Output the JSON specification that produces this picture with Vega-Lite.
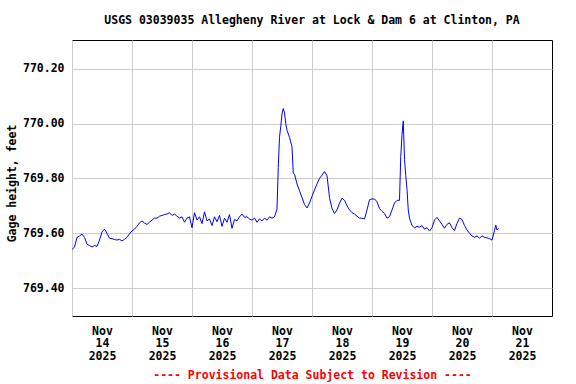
{
"$schema": "https://vega.github.io/schema/vega-lite/v6.json",
"width": 480, "height": 276,
"autosize": "none",
"padding": {"left": 72, "top": 40, "right": 24, "bottom": 68},
"background": "white",
"config": {"view": {"stroke": "black", "strokeWidth": 1}, "font": "DejaVu Sans Mono"},
"title": {"text": "USGS 03039035 Allegheny River at Lock & Dam 6 at Clinton, PA", "font": "DejaVu Sans Mono", "fontSize": 11.5, "fontWeight": "bold", "color": "black", "anchor": "middle", "frame": "group", "offset": 14},
"data": {"values": [
{"t":"2025-11-14T00:00","v":769.54},{"t":"2025-11-14T01:00","v":769.55},{"t":"2025-11-14T02:00","v":769.585},{"t":"2025-11-14T03:00","v":769.59},{"t":"2025-11-14T04:00","v":769.597},{"t":"2025-11-14T05:00","v":769.585},{"t":"2025-11-14T06:00","v":769.56},{"t":"2025-11-14T07:00","v":769.555},{"t":"2025-11-14T08:00","v":769.55},{"t":"2025-11-14T09:00","v":769.555},{"t":"2025-11-14T10:00","v":769.552},{"t":"2025-11-14T11:00","v":769.575},{"t":"2025-11-14T12:00","v":769.605},{"t":"2025-11-14T13:00","v":769.615},{"t":"2025-11-14T14:00","v":769.6},{"t":"2025-11-14T15:00","v":769.582},{"t":"2025-11-14T16:00","v":769.58},{"t":"2025-11-14T17:00","v":769.577},{"t":"2025-11-14T18:00","v":769.575},{"t":"2025-11-14T19:00","v":769.578},{"t":"2025-11-14T20:00","v":769.572},{"t":"2025-11-14T21:00","v":769.578},{"t":"2025-11-14T22:00","v":769.585},{"t":"2025-11-14T23:00","v":769.598},
{"t":"2025-11-15T00:00","v":769.608},{"t":"2025-11-15T01:00","v":769.615},{"t":"2025-11-15T02:00","v":769.625},{"t":"2025-11-15T03:00","v":769.638},{"t":"2025-11-15T04:00","v":769.645},{"t":"2025-11-15T05:00","v":769.637},{"t":"2025-11-15T06:00","v":769.632},{"t":"2025-11-15T07:00","v":769.64},{"t":"2025-11-15T08:00","v":769.648},{"t":"2025-11-15T09:00","v":769.655},{"t":"2025-11-15T10:00","v":769.655},{"t":"2025-11-15T11:00","v":769.662},{"t":"2025-11-15T12:00","v":769.665},{"t":"2025-11-15T13:00","v":769.668},{"t":"2025-11-15T14:00","v":769.67},{"t":"2025-11-15T15:00","v":769.675},{"t":"2025-11-15T16:00","v":769.665},{"t":"2025-11-15T17:00","v":769.67},{"t":"2025-11-15T18:00","v":769.662},{"t":"2025-11-15T19:00","v":769.655},{"t":"2025-11-15T20:00","v":769.66},{"t":"2025-11-15T21:00","v":769.64},{"t":"2025-11-15T22:00","v":769.655},{"t":"2025-11-15T23:00","v":769.66},
{"t":"2025-11-16T00:00","v":769.62},{"t":"2025-11-16T01:00","v":769.675},{"t":"2025-11-16T02:00","v":769.648},{"t":"2025-11-16T03:00","v":769.66},{"t":"2025-11-16T04:00","v":769.635},{"t":"2025-11-16T05:00","v":769.678},{"t":"2025-11-16T06:00","v":769.645},{"t":"2025-11-16T07:00","v":769.652},{"t":"2025-11-16T08:00","v":769.628},{"t":"2025-11-16T09:00","v":769.66},{"t":"2025-11-16T10:00","v":769.642},{"t":"2025-11-16T11:00","v":769.665},{"t":"2025-11-16T12:00","v":769.625},{"t":"2025-11-16T13:00","v":769.655},{"t":"2025-11-16T14:00","v":769.64},{"t":"2025-11-16T15:00","v":769.668},{"t":"2025-11-16T16:00","v":769.618},{"t":"2025-11-16T17:00","v":769.65},{"t":"2025-11-16T18:00","v":769.645},{"t":"2025-11-16T19:00","v":769.66},{"t":"2025-11-16T20:00","v":769.67},{"t":"2025-11-16T21:00","v":769.658},{"t":"2025-11-16T22:00","v":769.66},{"t":"2025-11-16T23:00","v":769.652},
{"t":"2025-11-17T00:00","v":769.648},{"t":"2025-11-17T01:00","v":769.655},{"t":"2025-11-17T02:00","v":769.64},{"t":"2025-11-17T03:00","v":769.652},{"t":"2025-11-17T04:00","v":769.645},{"t":"2025-11-17T05:00","v":769.655},{"t":"2025-11-17T06:00","v":769.648},{"t":"2025-11-17T07:00","v":769.66},{"t":"2025-11-17T08:00","v":769.655},{"t":"2025-11-17T09:00","v":769.66},{"t":"2025-11-17T10:00","v":769.688},{"t":"2025-11-17T10:30","v":769.84},{"t":"2025-11-17T11:00","v":769.95},{"t":"2025-11-17T11:30","v":769.99},{"t":"2025-11-17T12:00","v":770.035},{"t":"2025-11-17T12:30","v":770.055},{"t":"2025-11-17T13:00","v":770.04},{"t":"2025-11-17T13:30","v":770.0},{"t":"2025-11-17T14:00","v":769.975},{"t":"2025-11-17T15:00","v":769.95},{"t":"2025-11-17T16:00","v":769.915},{"t":"2025-11-17T16:30","v":769.82},{"t":"2025-11-17T17:00","v":769.815},{"t":"2025-11-17T18:00","v":769.78},{"t":"2025-11-17T19:00","v":769.755},{"t":"2025-11-17T20:00","v":769.73},{"t":"2025-11-17T21:00","v":769.705},{"t":"2025-11-17T22:00","v":769.692},{"t":"2025-11-17T23:00","v":769.71},
{"t":"2025-11-18T00:00","v":769.735},{"t":"2025-11-18T01:00","v":769.758},{"t":"2025-11-18T02:00","v":769.78},{"t":"2025-11-18T03:00","v":769.8},{"t":"2025-11-18T04:00","v":769.812},{"t":"2025-11-18T05:00","v":769.825},{"t":"2025-11-18T06:00","v":769.81},{"t":"2025-11-18T07:00","v":769.73},{"t":"2025-11-18T08:00","v":769.69},{"t":"2025-11-18T09:00","v":769.672},{"t":"2025-11-18T10:00","v":769.685},{"t":"2025-11-18T11:00","v":769.71},{"t":"2025-11-18T12:00","v":769.728},{"t":"2025-11-18T13:00","v":769.72},{"t":"2025-11-18T14:00","v":769.7},{"t":"2025-11-18T15:00","v":769.685},{"t":"2025-11-18T16:00","v":769.675},{"t":"2025-11-18T17:00","v":769.67},{"t":"2025-11-18T18:00","v":769.662},{"t":"2025-11-18T19:00","v":769.655},{"t":"2025-11-18T20:00","v":769.655},{"t":"2025-11-18T21:00","v":769.652},{"t":"2025-11-18T22:00","v":769.685},{"t":"2025-11-18T23:00","v":769.722},
{"t":"2025-11-19T00:00","v":769.725},{"t":"2025-11-19T01:00","v":769.725},{"t":"2025-11-19T02:00","v":769.715},{"t":"2025-11-19T03:00","v":769.69},{"t":"2025-11-19T04:00","v":769.68},{"t":"2025-11-19T05:00","v":769.672},{"t":"2025-11-19T06:00","v":769.655},{"t":"2025-11-19T07:00","v":769.66},{"t":"2025-11-19T08:00","v":769.685},{"t":"2025-11-19T09:00","v":769.71},{"t":"2025-11-19T10:00","v":769.72},{"t":"2025-11-19T11:00","v":769.72},{"t":"2025-11-19T11:30","v":769.88},{"t":"2025-11-19T12:00","v":769.96},{"t":"2025-11-19T12:30","v":770.01},{"t":"2025-11-19T13:00","v":769.87},{"t":"2025-11-19T13:30","v":769.81},{"t":"2025-11-19T14:00","v":769.76},{"t":"2025-11-19T14:30","v":769.685},{"t":"2025-11-19T15:00","v":769.655},{"t":"2025-11-19T16:00","v":769.628},{"t":"2025-11-19T17:00","v":769.62},{"t":"2025-11-19T18:00","v":769.625},{"t":"2025-11-19T19:00","v":769.622},{"t":"2025-11-19T20:00","v":769.628},{"t":"2025-11-19T21:00","v":769.615},{"t":"2025-11-19T22:00","v":769.62},{"t":"2025-11-19T23:00","v":769.608},
{"t":"2025-11-20T00:00","v":769.62},{"t":"2025-11-20T01:00","v":769.648},{"t":"2025-11-20T02:00","v":769.658},{"t":"2025-11-20T03:00","v":769.645},{"t":"2025-11-20T04:00","v":769.632},{"t":"2025-11-20T05:00","v":769.618},{"t":"2025-11-20T06:00","v":769.632},{"t":"2025-11-20T07:00","v":769.638},{"t":"2025-11-20T08:00","v":769.62},{"t":"2025-11-20T09:00","v":769.61},{"t":"2025-11-20T10:00","v":769.636},{"t":"2025-11-20T11:00","v":769.655},{"t":"2025-11-20T12:00","v":769.65},{"t":"2025-11-20T13:00","v":769.628},{"t":"2025-11-20T14:00","v":769.612},{"t":"2025-11-20T15:00","v":769.6},{"t":"2025-11-20T16:00","v":769.59},{"t":"2025-11-20T17:00","v":769.585},{"t":"2025-11-20T18:00","v":769.59},{"t":"2025-11-20T19:00","v":769.582},{"t":"2025-11-20T20:00","v":769.59},{"t":"2025-11-20T21:00","v":769.585},{"t":"2025-11-20T22:00","v":769.583},{"t":"2025-11-20T23:00","v":769.58},
{"t":"2025-11-21T00:00","v":769.575},{"t":"2025-11-21T01:00","v":769.61},{"t":"2025-11-21T01:30","v":769.63},{"t":"2025-11-21T02:00","v":769.612},{"t":"2025-11-21T02:30","v":769.618}
]},
"mark": {"type": "line", "color": "#0000ff", "strokeWidth": 1, "clip": true},
"encoding": {
"x": {"field": "t", "type": "temporal",
"scale": {"domain": [{"year": 2025, "month": 11, "date": 14}, {"year": 2025, "month": 11, "date": 22}]},
"axis": {"values": [{"year": 2025, "month": 11, "date": 14}, {"year": 2025, "month": 11, "date": 15}, {"year": 2025, "month": 11, "date": 16}, {"year": 2025, "month": 11, "date": 17}, {"year": 2025, "month": 11, "date": 18}, {"year": 2025, "month": 11, "date": 19}, {"year": 2025, "month": 11, "date": 20}, {"year": 2025, "month": 11, "date": 21}],
"labelExpr": "[timeFormat(datum.value, '%b'), timeFormat(datum.value, '%d'), timeFormat(datum.value, '%Y')]",
"labelOffset": 30, "labelLineHeight": 12.7, "labelBaseline": "top", "labelPadding": 9,
"labelFont": "DejaVu Sans Mono", "labelFontSize": 11.5, "labelFontWeight": "bold", "labelColor": "black",
"labelOverlap": false, "labelBound": false, "labelFlush": false,
"ticks": false, "domain": false, "grid": true, "gridColor": "#cccccc", "gridWidth": 1,
"title": "---- Provisional Data Subject to Revision ----", "titleFont": "DejaVu Sans Mono", "titleFontSize": 11.5, "titleFontWeight": "bold", "titleColor": "#ff0000",
"titleY": 62.5, "titleBaseline": "alphabetic"}},
"y": {"field": "v", "type": "quantitative",
"scale": {"domain": [769.298, 770.305], "nice": false, "zero": false},
"axis": {"values": [769.4, 769.6, 769.8, 770.0, 770.2], "format": ".2f",
"labelFont": "DejaVu Sans Mono", "labelFontSize": 11.5, "labelFontWeight": "bold", "labelColor": "black", "labelPadding": 8,
"ticks": false, "domain": false, "grid": true, "gridColor": "#cccccc", "gridWidth": 1,
"title": "Gage height, feet", "titleFont": "DejaVu Sans Mono", "titleFontSize": 11.5, "titleFontWeight": "bold", "titleColor": "black",
"titleX": -60, "titleY": 143, "titleAngle": -90, "titleAlign": "center", "titleBaseline": "middle"}}
}
}
